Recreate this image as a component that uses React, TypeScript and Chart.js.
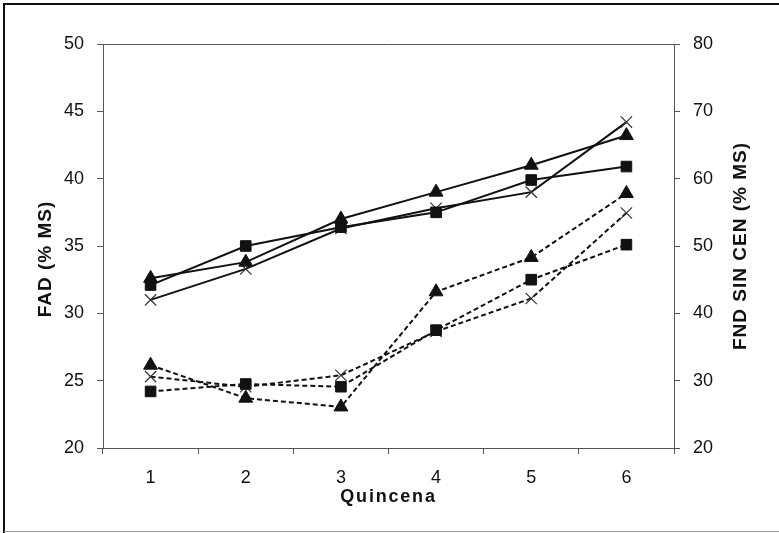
import React, { useEffect, useRef } from "react";
import { Chart, registerables } from "chart.js";

Chart.register(...registerables);

const categories = ["1", "2", "3", "4", "5", "6"];
// Solid lines — FAD (%MS), left axis
const fadTriangle = [32.6, 33.8, 37.0, 39.0, 41.0, 43.2];
const fadSquare = [32.1, 35.0, 36.4, 37.5, 39.9, 40.9];
const fadCross = [31.0, 33.3, 36.3, 37.8, 39.0, 44.2];
// Dashed lines — FND SIN CEN (%MS), right axis
const fndTriangle = [32.3, 27.4, 26.1, 43.2, 48.3, 57.8];
const fndSquare = [28.4, 29.5, 29.1, 37.5, 45.0, 50.2];
const fndCross = [30.6, 29.1, 30.8, 37.3, 42.2, 54.9];

const leftTitle = "FAD (% MS)";
const rightTitle = "FND SIN CEN (% MS)";
const xTitle = "Quincena";

const FONT = "'Liberation Sans', Arial, sans-serif";
const AXIS = "#555";

const decor = {
  id: "decor",
  afterDraw(chart: any) {
    const { ctx, chartArea: a, width, height } = chart;
    ctx.save();
    // plot frame top
    ctx.strokeStyle = AXIS;
    ctx.lineWidth = 1;
    ctx.beginPath();
    ctx.moveTo(a.left, a.top + 0.5);
    ctx.lineTo(a.right, a.top + 0.5);
    ctx.stroke();
    // outer frame
    ctx.strokeStyle = "#111";
    ctx.lineWidth = 2;
    ctx.beginPath();
    ctx.moveTo(4, height);
    ctx.lineTo(4, 4);
    ctx.lineTo(width, 4);
    ctx.stroke();
    ctx.strokeStyle = "#999";
    ctx.lineWidth = 1;
    ctx.beginPath();
    ctx.moveTo(4, height - 1.5);
    ctx.lineTo(width, height - 1.5);
    ctx.stroke();
    // titles
    ctx.fillStyle = "#111";
    ctx.font = `bold 19px ${FONT}`;
    try { (ctx as any).letterSpacing = "1px"; } catch (e) {}
    ctx.textAlign = "center";
    ctx.textBaseline = "middle";
    const cy = (a.top + a.bottom) / 2;
    ctx.save();
    ctx.translate(46, 259);
    ctx.rotate(-Math.PI / 2);
    ctx.fillText(leftTitle, 0, 0);
    ctx.restore();
    ctx.save();
    ctx.translate(741, cy);
    ctx.rotate(-Math.PI / 2);
    ctx.fillText(rightTitle, 0, 0);
    ctx.restore();
    ctx.font = `bold 18px ${FONT}`;
    try { (ctx as any).letterSpacing = "1.8px"; } catch (e) {}
    ctx.fillText(xTitle, (a.left + a.right) / 2, 497);
    ctx.restore();
  },
};

function makeSet(label: string, data: number[], style: string, axis: string, dashed: boolean) {
  const isCross = style === "crossRot";
  return {
    label,
    data,
    yAxisID: axis,
    borderColor: "#111",
    backgroundColor: "#111",
    borderWidth: 2,
    borderDash: dashed ? [5, 3] : [],
    pointStyle: style,
    pointRadius: style === "triangle" ? 8 : style === "rect" ? 7.5 : 8,
    pointBorderWidth: isCross ? 1.2 : 1,
    pointBorderColor: isCross ? "#333" : "#111",
    pointBackgroundColor: "#111",
    tension: 0,
    fill: false,
  };
}

export default function App() {
  const ref = useRef<HTMLCanvasElement | null>(null);
  useEffect(() => {
    if (!ref.current) return;
    const tickFont = { family: FONT, size: 18 };
    const chart = new Chart(ref.current, {
      type: "line",
      data: {
        labels: categories,
        datasets: [
          makeSet("FAD A", fadTriangle, "triangle", "y", false),
          makeSet("FAD B", fadSquare, "rect", "y", false),
          makeSet("FAD C", fadCross, "crossRot", "y", false),
          makeSet("FND A", fndTriangle, "triangle", "y2", true),
          makeSet("FND B", fndSquare, "rect", "y2", true),
          makeSet("FND C", fndCross, "crossRot", "y2", true),
        ] as any,
      },
      options: {
        animation: false,
        responsive: false,
        layout: { padding: { top: 44, left: 0, right: 0, bottom: 0 } },
        plugins: { legend: { display: false }, tooltip: { enabled: false } },
        scales: {
          x: {
            type: "category",
            offset: true,
            grid: { offset: true, drawOnChartArea: false, tickLength: 6, color: AXIS },
            border: { color: AXIS, width: 1 },
            ticks: { font: tickFont, color: "#111", padding: 13, maxRotation: 0 },
            afterFit: (s: any) => { s.height = 85; },
          },
          y: {
            position: "left",
            min: 20,
            max: 50,
            ticks: { stepSize: 5, font: tickFont, color: "#111", padding: 13 },
            grid: { drawOnChartArea: false, tickLength: 6, color: AXIS },
            border: { color: AXIS, width: 1 },
            afterFit: (s: any) => { s.width = 103; },
          },
          y2: {
            position: "right",
            min: 20,
            max: 80,
            ticks: { stepSize: 10, font: tickFont, color: "#111", padding: 13 },
            grid: { drawOnChartArea: false, tickLength: 6, color: AXIS },
            border: { color: AXIS, width: 1 },
            afterFit: (s: any) => { s.width = 105; },
          },
        },
      } as any,
      plugins: [decor],
    });
    return () => chart.destroy();
  }, []);
  return (
    <div style={{ position: "fixed", left: 0, top: 0, width: 779, height: 533, background: "#fff" }}>
      <canvas ref={ref} width={779} height={533} style={{ display: "block" }} />
    </div>
  );
}
